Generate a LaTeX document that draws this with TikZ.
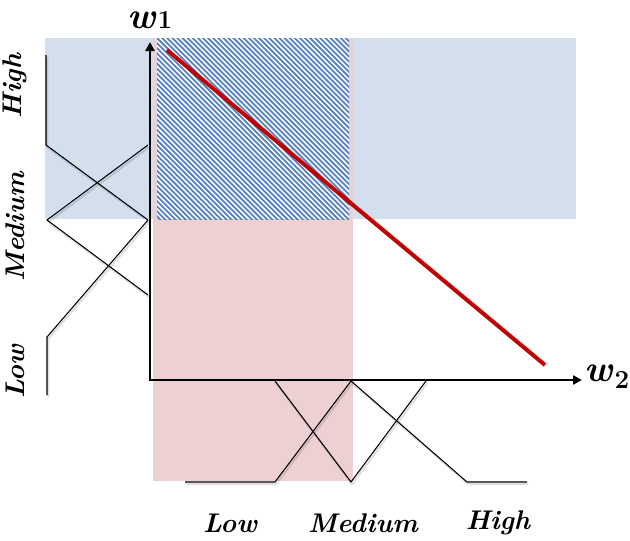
\documentclass[tikz,border=0pt]{standalone}
\usetikzlibrary{arrows.meta}
\definecolor{bandblue}{RGB}{211,223,237}
\definecolor{bandpink}{RGB}{236,208,210}
\definecolor{hatchblue}{RGB}{88,131,192}
\definecolor{linered}{RGB}{192,0,0}
\tikzset{
  mf/.style={black, line width=1.05pt, preaction={draw, black, opacity=0.12, line width=2.2pt, transform canvas={xshift=1.2pt, yshift=-2pt}}},
  axis/.style={black, line width=2.6pt, -{Triangle[length=9pt,width=9pt]}},
  lbl/.style={font=\fontsize{27}{27}\selectfont\bfseries\itshape, inner sep=0pt},
  wlbl/.style={font=\fontsize{37}{37}\selectfont\bfseries\itshape, inner sep=0pt, anchor=base west},
  sublbl/.style={font=\fontsize{26}{26}\selectfont\bfseries, inner sep=0pt, anchor=base west},
}
\begin{document}
\begin{tikzpicture}[x=1pt,y=-1pt]
\useasboundingbox (0,0) rectangle (630,541);
% shaded regions
\fill[bandblue] (45,38) rectangle (576,219);
\fill[bandpink, opacity=0.75] (153,38) rectangle (353,481);
\fill[bandpink] (153,219) rectangle (353,481);
\begin{scope}
  \clip (157,38) rectangle (349,219);
  \fill[white] (157,38) rectangle (349,219);
  \foreach \i in {-45,...,45} {
    \draw[hatchblue, line width=1.8pt] (157+5.1*\i-200,38-200) -- (157+5.1*\i+300,38+300);
  }
\end{scope}
% axes
\coordinate (O) at (150,380);
\coordinate (ytip) at (150,42);
\coordinate (xtip) at (582,380);
\draw[axis] (150,381.3) -- (ytip);
\draw[axis] (148.7,380) -- (xtip);
% red line
\coordinate (r1) at (167,50);
\coordinate (r2) at (545,365);
\draw[linered, line width=4pt] (r1) -- (r2);
% left membership functions
\coordinate (lh1) at (46,55);
\coordinate (lh2) at (46,145);
\coordinate (lm1) at (148,145);
\coordinate (lm2) at (47,220);
\coordinate (lm3) at (148,295);
\coordinate (ll1) at (148,220);
\coordinate (ll2) at (47,337);
\coordinate (ll3) at (47,395);
\draw[mf] (lh1) -- (lh2) -- (ll1);
\draw[mf] (lm1) -- (lm2) -- (lm3);
\draw[mf] (ll1) -- (ll2) -- (ll3);
% bottom membership functions
\coordinate (bl1) at (185,482);
\coordinate (bl2) at (275,482);
\coordinate (bm1) at (275,381);
\coordinate (bm2) at (351,482);
\coordinate (bm3) at (426,381);
\coordinate (bh1) at (351,381);
\coordinate (bh2) at (467,482);
\coordinate (bh3) at (527,482);
\draw[mf] (bl1) -- (bl2) -- (bh1);
\draw[mf] (bm1) -- (bm2) -- (bm3);
\draw[mf] (bh1) -- (bh2) -- (bh3);
% labels
\node[wlbl] (w1) at (127,28) {w};
\node[sublbl] (w1s) at (w1.base east) [xshift=1.5pt] {1};
\node[wlbl] (w2) at (584,381) {w};
\node[sublbl] (w2s) at ([yshift=-7pt]w2.base east) [xshift=1.5pt] {2};
\node[lbl] (bLow) at (230,523) {Low};
\node[lbl] (bMed) at (363,523) {Medium};
\node[lbl] (bHigh) at (498,523) {High};
\node[lbl, rotate=90] (lHigh) at (15,86) {High};
\node[lbl, rotate=90] (lMed) at (15,227) {Medium};
\node[lbl, rotate=90] (lLow) at (15,372) {Low};
\end{tikzpicture}
\end{document}
